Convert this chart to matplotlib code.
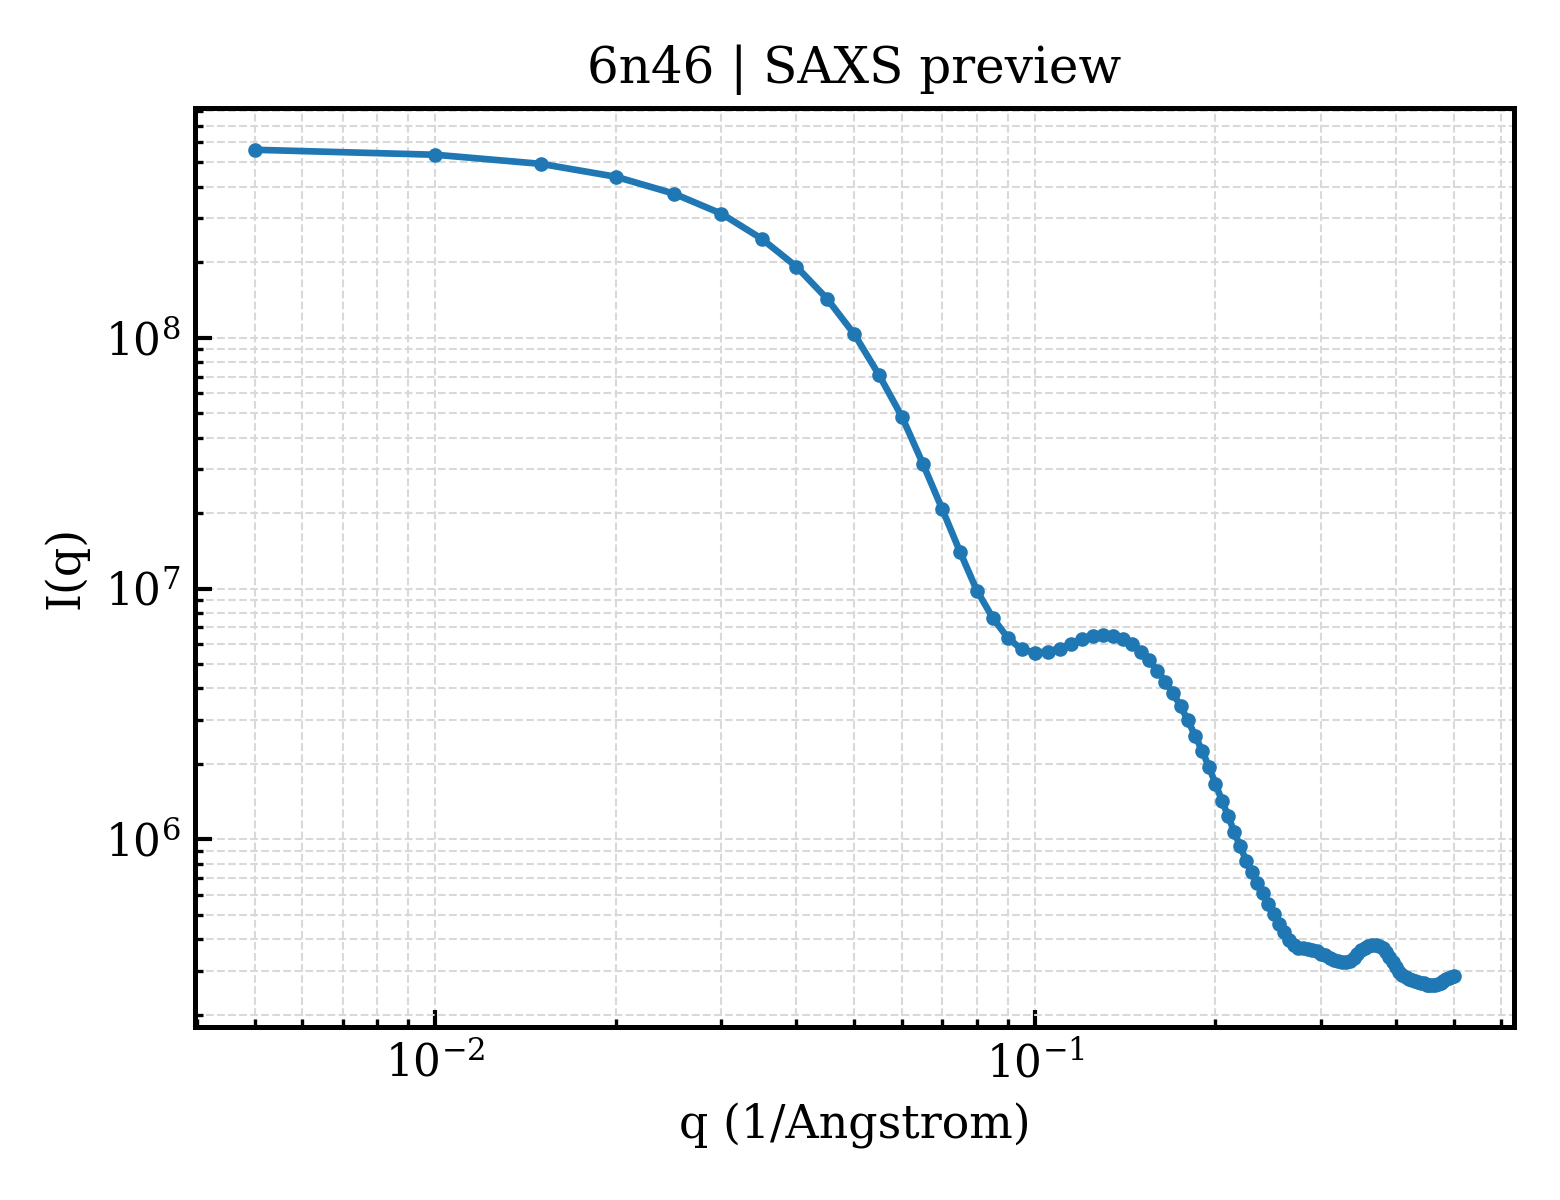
import matplotlib
matplotlib.use('Agg')
import matplotlib.pyplot as plt

plt.rcParams['font.family'] = 'DejaVu Serif'
plt.rcParams['axes.linewidth'] = 1.2

TITLE = '6n46 | SAXS preview'

# q values, 1/Angstrom
q = [0.005, 0.010, 0.015, 0.020, 0.025, 0.030, 0.035, 0.040, 0.045, 0.050,
     0.055, 0.060, 0.065, 0.070, 0.075, 0.080, 0.085, 0.090, 0.095, 0.100,
     0.105, 0.110, 0.115, 0.120, 0.125, 0.130, 0.135, 0.140, 0.145, 0.150,
     0.155, 0.160, 0.165, 0.170, 0.175, 0.180, 0.185, 0.190, 0.195, 0.200,
     0.205, 0.210, 0.215, 0.220, 0.225, 0.230, 0.235, 0.240, 0.245, 0.250,
     0.255, 0.260, 0.265, 0.270, 0.275, 0.280, 0.285, 0.290, 0.295, 0.300,
     0.305, 0.310, 0.315, 0.320, 0.325, 0.330, 0.335, 0.340, 0.345, 0.350,
     0.355, 0.360, 0.365, 0.370, 0.375, 0.380, 0.385, 0.390, 0.395, 0.400,
     0.405, 0.410, 0.415, 0.420, 0.425, 0.430, 0.435, 0.440, 0.445, 0.450,
     0.455, 0.460, 0.465, 0.470, 0.475, 0.480, 0.485, 0.490, 0.495, 0.500]

# I(q)
intensity = [5.61e8, 5.36e8, 4.93e8, 4.38e8, 3.75e8, 3.12e8, 2.48e8, 1.92e8, 1.43e8, 1.03e8,
             7.07e7, 4.84e7, 3.15e7, 2.08e7, 1.40e7, 9.82e6, 7.66e6, 6.38e6, 5.72e6, 5.56e6,
             5.61e6, 5.77e6, 6.04e6, 6.32e6, 6.50e6, 6.56e6, 6.50e6, 6.32e6, 5.99e6, 5.61e6,
             5.17e6, 4.71e6, 4.26e6, 3.82e6, 3.39e6, 2.98e6, 2.59e6, 2.26e6, 1.95e6, 1.67e6,
             1.43e6, 1.24e6, 1.07e6, 9.38e5, 8.24e5, 7.39e5, 6.68e5, 6.10e5, 5.51e5, 5.03e5,
             4.59e5, 4.26e5, 3.96e5, 3.78e5, 3.71e5, 3.68e5, 3.65e5, 3.61e5, 3.58e5, 3.51e5,
             3.45e5, 3.37e5, 3.31e5, 3.27e5, 3.24e5, 3.24e5, 3.27e5, 3.36e5, 3.48e5, 3.61e5,
             3.70e5, 3.77e5, 3.80e5, 3.80e5, 3.77e5, 3.68e5, 3.55e5, 3.39e5, 3.24e5, 3.09e5,
             2.95e5, 2.87e5, 2.82e5, 2.78e5, 2.76e5, 2.73e5, 2.71e5, 2.69e5, 2.67e5, 2.64e5,
             2.63e5, 2.62e5, 2.63e5, 2.66e5, 2.69e5, 2.73e5, 2.77e5, 2.81e5, 2.83e5, 2.86e5]

fig, ax = plt.subplots(figsize=(5.2, 4.0), dpi=300)
fig.subplots_adjust(left=0.125, right=0.9705, top=0.91, bottom=0.144)

ax.loglog(q, intensity, '-o', color='#1f77b4', lw=1.6, ms=2.5)

ax.set_xlabel('q (1/Angstrom)', fontsize=11)
ax.set_ylabel('I(q)', fontsize=11)
ax.set_title(TITLE, fontsize=12)

ax.grid(True, which='both', ls='--', lw=0.5, color='#d9d9d9')
ax.tick_params(which='both', direction='in', labelsize=10.5)
ax.tick_params(which='major', length=4, width=1.0)
ax.tick_params(which='minor', length=2, width=0.8)

fig.savefig('out.png', dpi=300)
